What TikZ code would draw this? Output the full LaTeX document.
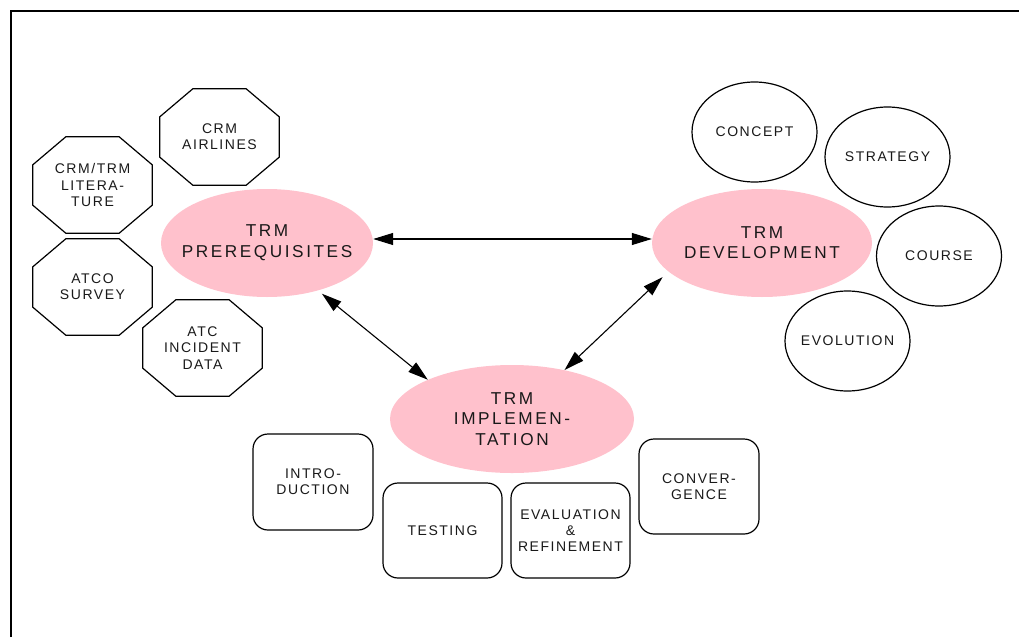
\documentclass[tikz,border=0pt]{standalone}
\usepackage{fontspec}
\setmainfont{Liberation Sans}[LetterSpace=15]
\newfontfamily\smallfam{Liberation Sans}[LetterSpace=11]
\usetikzlibrary{shapes.geometric,arrows.meta}
\definecolor{pinkfill}{RGB}{255,193,204}
\definecolor{txt}{RGB}{25,25,25}
\tikzset{
  bigtxt/.style={font=\fontsize{17.2}{20.5}\selectfont, align=center, text=txt, inner sep=0pt},
  smalltxt/.style={font=\smallfam\fontsize{14}{16.2}\selectfont, align=center, text=txt, inner sep=0pt},
  pinkell/.style={ellipse, fill=pinkfill, draw=none, inner sep=0pt},
  whiteell/.style={ellipse, draw, line width=1.2pt, inner sep=0pt, minimum width=125pt, minimum height=100pt},
  octbox/.style={rectangle, smalltxt, minimum width=119pt, minimum height=96pt},
  rbox/.style={rectangle, rounded corners=15pt, draw, line width=1.2pt, smalltxt, minimum width=119pt, minimum height=95pt},
  dbl/.style={{Triangle[length=20pt,width=12pt]}-{Triangle[length=20pt,width=12pt]}, line width=1.1pt},
  frameline/.style={line width=2pt}
}
\newcommand\octagonpath[1]{\draw[line width=1.2pt] ([xshift=33pt]#1.north west) -- ([xshift=-33pt]#1.north east) -- ([yshift=-28pt]#1.north east) -- ([yshift=28pt]#1.south east) -- ([xshift=-33pt]#1.south east) -- ([xshift=33pt]#1.south west) -- ([yshift=28pt]#1.south west) -- ([yshift=-28pt]#1.north west) -- cycle;}
\begin{document}
\begin{tikzpicture}[x=1pt,y=-1pt]
\useasboundingbox (0,0) rectangle (1019,637);
% frame
\coordinate (fbl) at (11,637);
\coordinate (ftl) at (11,10.5);
\coordinate (ftr) at (1019,10.5);
\draw[frameline] (fbl) -- (ftl) -- (ftr);

% central ellipses
\node[pinkell, minimum width=212pt, minimum height=108pt] (pre) at (267,243) {};
\node[bigtxt] (pret) at ([yshift=0.5pt]pre.center) {TRM\\PREREQUISITES};
\node[pinkell, minimum width=220pt, minimum height=108pt] (dev) at (762,243) {};
\node[bigtxt] (devt) at ([yshift=0.5pt]dev.center) {TRM\\DEVELOPMENT};
\node[pinkell, minimum width=244pt, minimum height=108pt] (imp) at (512,419) {};
\node[bigtxt] (impt) at (imp) {TRM\\IMPLEMEN-\\TATION};

% octagons
\node[octbox] (air) at (219.5,137) {CRM\\AIRLINES};
\octagonpath{air}
\node[octbox] (lit) at (92.5,185) {CRM/TRM\\LITERA-\\TURE};
\octagonpath{lit}
\node[octbox] (sur) at (92.5,287) {ATCO\\SURVEY};
\octagonpath{sur}
\node[octbox] (inc) at (202.5,348) {ATC\\INCIDENT\\DATA};
\octagonpath{inc}

% white ellipses
\node[whiteell] (con) at (754.5,132) {};
\node[smalltxt] (cont) at (con) {CONCEPT};
\node[whiteell] (str) at (887.5,157) {};
\node[smalltxt] (strt) at (str) {STRATEGY};
\node[whiteell] (cou) at (939,256) {};
\node[smalltxt] (cout) at (cou) {COURSE};
\node[whiteell] (evo) at (847.5,341) {};
\node[smalltxt] (evot) at (evo) {EVOLUTION};

% rounded boxes
\node[rbox, minimum width=120pt, minimum height=96pt] (intro) at (313,482) {INTRO-\\DUCTION};
\node[rbox] (test) at (442.5,530.5) {TESTING};
\node[rbox] (eval) at (570.5,530.5) {EVALUATION\\\&\\REFINEMENT};
\node[rbox, minimum width=120pt] (conv) at (699,486.5) {CONVER-\\GENCE};

% arrows
\draw[dbl] ([yshift=4pt]pre.east) -- ([yshift=4pt]dev.west);
\draw[dbl, shorten <=5pt] (pre.-43) -- (imp.155);
\draw[dbl, shorten >=8pt] (imp.43) -- (dev.-163);
\end{tikzpicture}
\end{document}
